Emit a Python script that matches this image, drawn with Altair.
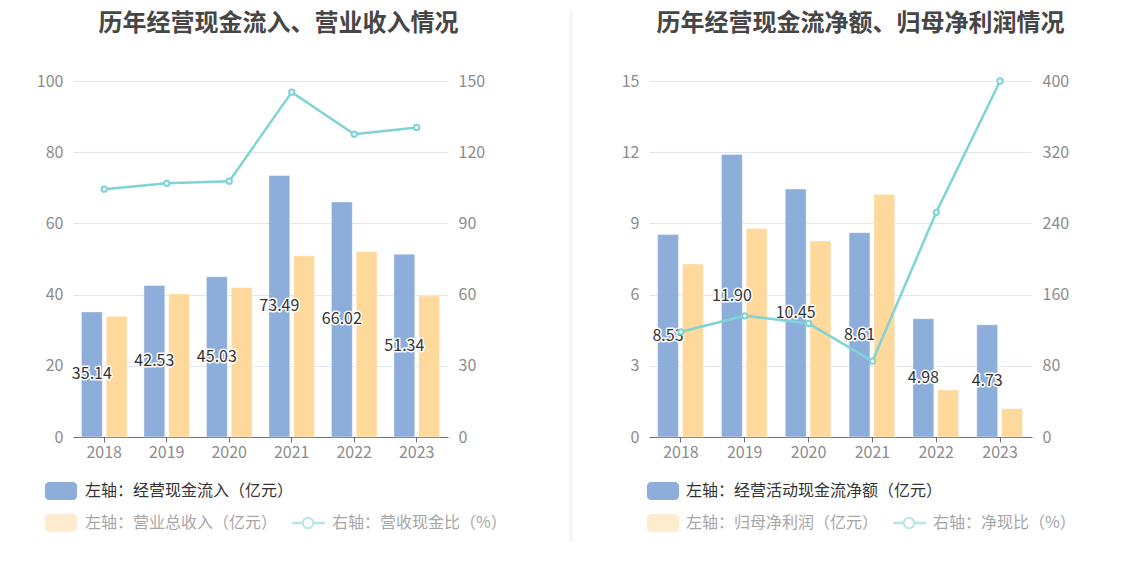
import altair as alt
import pandas as pd

FONT = "Noto Sans CJK SC"
BLUE = "#8DADDB"
ORANGE = "#FFD89B"
TEAL = "#7ED3D6"
PALE_ORANGE = "#FFECCF"
PALE_TEAL = "#B5E5E8"
LABEL = "#8C8C8C"
DARK = "#333333"
GREY_TXT = "#A6A6A6"

years = ["2018", "2019", "2020", "2021", "2022", "2023"]
series_keys = ["bar1", "bar2"]

# left panel
l_title = "历年经营现金流入、营业收入情况"
l_inflow = [35.14, 42.53, 45.03, 73.49, 66.02, 51.34]
l_revenue = [33.9, 40.2, 42.0, 50.9, 52.1, 39.6]
l_ratio = [104.4, 106.9, 107.8, 145.3, 127.6, 130.4]
l_left_ticks = [0, 20, 40, 60, 80, 100]
l_right_ticks = [0, 30, 60, 90, 120, 150]
l_legend = ["左轴：经营现金流入（亿元）", "左轴：营业总收入（亿元）", "右轴：营收现金比（%）"]

# right panel
r_title = "历年经营现金流净额、归母净利润情况"
r_ocf = [8.53, 11.90, 10.45, 8.61, 4.98, 4.73]
r_profit = [7.29, 8.79, 8.26, 10.23, 1.98, 1.19]
r_ratio = [118.2, 136.2, 127.6, 85.2, 252.5, 400.0]
r_left_ticks = [0, 3, 6, 9, 12, 15]
r_right_ticks = [0, 80, 160, 240, 320, 400]
r_legend = ["左轴：经营活动现金流净额（亿元）", "左轴：归母净利润（亿元）", "右轴：净现比（%）"]


def one(**kw):
    return pd.DataFrame({k: [v] for k, v in kw.items()})


def panel(title, dx, v1, v2, ratio, lt, rt, legend, width, height,
          lx, ltx, lsym, ltx3, divider_x, bound_x):
    n1, n2 = series_keys
    bars_df = pd.DataFrame({"year": years * 2,
                            "series": [n1] * len(years) + [n2] * len(years),
                            "value": v1 + v2})
    lab_df = pd.DataFrame({"year": years, "series": [n1] * len(years), "value": v1})
    line_df = pd.DataFrame({"year": years, "ratio": ratio})

    xenc = alt.X("year:N", sort=years,
                 scale=alt.Scale(paddingInner=0.27, paddingOuter=0.135),
                 axis=alt.Axis(title=None, labelAngle=0, domainColor="#6E7079",
                               tickColor="#6E7079", tickSize=5, labelColor=LABEL,
                               labelFontSize=16, labelPadding=2, labelFont=FONT,
                               grid=False))
    xoff = alt.XOffset("series:N", sort=series_keys,
                       scale=alt.Scale(domain=series_keys, paddingInner=0.16, paddingOuter=0))
    yl = alt.Scale(domain=[lt[0], lt[-1]], nice=False)
    yr = alt.Scale(domain=[rt[0], rt[-1]], nice=False)

    bars = alt.Chart(bars_df).mark_bar(stroke="white", strokeWidth=0.8, strokeOpacity=0.5).encode(
        x=xenc, xOffset=xoff,
        y=alt.Y("value:Q", scale=yl,
                axis=alt.Axis(title=None, values=lt, grid=True, gridColor="#E0E6F1",
                              domain=False, ticks=False, labelPadding=10,
                              labelColor=LABEL, labelFontSize=16, labelFont=FONT)),
        color=alt.Color("series:N", scale=alt.Scale(domain=series_keys, range=[BLUE, ORANGE]),
                        legend=None))
    halo = alt.Chart(lab_df).transform_calculate(mid="datum.value / 2").mark_text(
        font=FONT, fontSize=16, stroke="white", strokeWidth=3, strokeJoin="round",
        fill="white").encode(
        x=xenc, xOffset=xoff, y=alt.Y("mid:Q", scale=yl, axis=None),
        text=alt.Text("value:Q", format=".2f"))
    txt = alt.Chart(lab_df).transform_calculate(mid="datum.value / 2").mark_text(
        font=FONT, fontSize=16, fill=DARK).encode(
        x=xenc, xOffset=xoff, y=alt.Y("mid:Q", scale=yl, axis=None),
        text=alt.Text("value:Q", format=".2f"))
    line = alt.Chart(line_df).mark_line(color=TEAL, strokeWidth=2.5).encode(
        x=xenc,
        y=alt.Y("ratio:Q", scale=yr,
                axis=alt.Axis(title=None, orient="right", values=rt, grid=False,
                              domain=False, ticks=False, labelPadding=10,
                              labelColor=LABEL, labelFontSize=16, labelFont=FONT)))
    pts = alt.Chart(line_df).mark_point(shape="circle", filled=True, fill="white",
                                        stroke=TEAL, strokeWidth=2, size=28, opacity=1).encode(
        x=xenc, y=alt.Y("ratio:Q", scale=yr, axis=None))

    # legend
    r1y, r2y = height + 54, height + 86
    sw1 = alt.Chart(one(k=0)).mark_rect(color=BLUE, cornerRadius=4).encode(
        x=alt.value(lx), x2=alt.value(lx + 32), y=alt.value(r1y - 9), y2=alt.value(r1y + 9))
    sw2 = alt.Chart(one(k=0)).mark_rect(color=PALE_ORANGE, cornerRadius=4).encode(
        x=alt.value(lx), x2=alt.value(lx + 32), y=alt.value(r2y - 9), y2=alt.value(r2y + 9))
    t1 = alt.Chart(one(label=legend[0])).mark_text(
        align="left", baseline="middle", font=FONT, fontSize=16, color=DARK).encode(
        x=alt.value(ltx), y=alt.value(r1y), text="label:N")
    t2 = alt.Chart(one(label=legend[1])).mark_text(
        align="left", baseline="middle", font=FONT, fontSize=16, color=GREY_TXT).encode(
        x=alt.value(ltx), y=alt.value(r2y), text="label:N")
    t3 = alt.Chart(one(label=legend[2])).mark_text(
        align="left", baseline="middle", font=FONT, fontSize=16, color=GREY_TXT).encode(
        x=alt.value(ltx3), y=alt.value(r2y), text="label:N")
    symline = alt.Chart(one(k=0)).mark_rule(color=PALE_TEAL, strokeWidth=2.5).encode(
        x=alt.value(lsym - 16), x2=alt.value(lsym + 17), y=alt.value(r2y))
    symdot = alt.Chart(one(k=0)).mark_point(shape="circle", filled=True, fill="white",
                                            stroke=PALE_TEAL, strokeWidth=2, size=110,
                                            opacity=1).encode(
        x=alt.value(lsym), y=alt.value(r2y))

    divider = alt.Chart(one(k=0)).mark_rule(color="#EEEEEE", strokeWidth=1).encode(
        x=alt.value(divider_x), y=alt.value(-72), y2=alt.value(460))
    bound = alt.Chart(one(k=0)).mark_rule(strokeOpacity=0, color="white").encode(
        x=alt.value(bound_x), y=alt.value(0), y2=alt.value(10))

    return alt.layer(bars, halo, txt, line, pts, sw1, sw2, t1, t2, t3, symline, symdot,
                     divider, bound).resolve_scale(y="independent").properties(
        width=width, height=height,
        title=alt.TitleParams(title, font=FONT, fontSize=24, fontWeight="bold",
                              color="#464646", anchor="middle", frame="group",
                              offset=-27, dx=dx))


left = panel(l_title, 18, l_inflow, l_revenue, l_ratio, l_left_ticks,
             l_right_ticks, l_legend, 375, 356,
             lx=-28, ltx=12, lsym=235, ltx3=259, divider_x=497, bound_x=-65)
right = panel(r_title, 20, r_ocf, r_profit, r_ratio, r_left_ticks,
              r_right_ticks, r_legend, 383, 356,
              lx=-2, ltx=37, lsym=260, ltx3=284, divider_x=-77, bound_x=-77)

chart = alt.hconcat(left, right, spacing=0).configure_view(stroke=None).properties(
    padding={"left": 0, "top": 0, "right": 0, "bottom": 0}, background="white")

chart.save("out.html", embed_options={"renderer": "svg", "actions": False})
